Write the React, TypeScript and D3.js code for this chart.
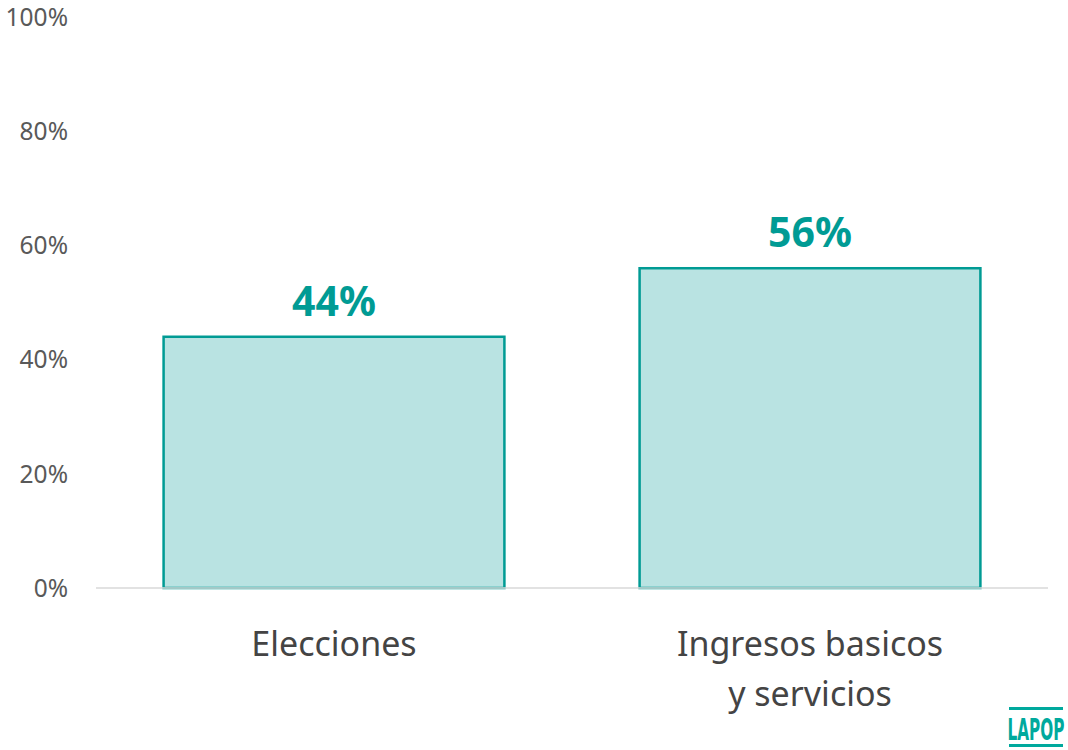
import React from 'react';
import * as d3 from 'd3';

// chart data
const categories: string[][] = [['Elecciones'], ['Ingresos basicos', 'y servicios']];
const values: number[] = [0.44, 0.56];
const yTicks: number[] = [0, 0.2, 0.4, 0.6, 0.8, 1];

const W = 1068;
const H = 750;
const margin = { top: 17, right: 20, bottom: 162, left: 96 };

const teal = '#009B94';
const fill = '#B9E3E2';
const font = '"Noto Sans", "Open Sans", sans-serif';

export default function App() {
  const x = d3
    .scaleBand<number>()
    .domain(d3.range(values.length))
    .range([margin.left, W - margin.right])
    .paddingInner(0.284)
    .paddingOuter(0.142);

  const y = d3
    .scaleLinear()
    .domain([0, 1])
    .range([H - margin.bottom, margin.top]);

  const fmt = d3.format('.0%');

  return (
    <svg
      width={W}
      height={H}
      style={{ position: 'absolute', left: 0, top: 0, background: '#fff' }}
      fontFamily={font}
    >
      {/* y tick labels */}
      {yTicks.map((t) => (
        <text
          key={t}
          x={68}
          y={y(t)}
          dy="0.36em"
          textAnchor="end"
          fontSize={24.5}
          fill="#595959"
        >
          {fmt(t)}
        </text>
      ))}

      {/* bars */}
      {values.map((v, i) => (
        <rect
          key={i}
          x={x(i)}
          y={y(v)}
          width={x.bandwidth()}
          height={y(0) - y(v)}
          fill={fill}
          stroke={teal}
          strokeWidth={2.5}
        />
      ))}

      {/* baseline */}
      <line
        x1={margin.left}
        x2={W - margin.right}
        y1={y(0)}
        y2={y(0)}
        stroke="#D9D9D9"
        strokeWidth={1.5}
      />

      {/* value labels */}
      {values.map((v, i) => (
        <text
          key={i}
          x={(x(i) ?? 0) + x.bandwidth() / 2}
          y={y(v) - 21}
          textAnchor="middle"
          fontSize={41}
          fontWeight="bold"
          fill={teal}
        >
          {fmt(v)}
        </text>
      ))}

      {/* category labels */}
      {categories.map((lines, i) => (
        <text
          key={i}
          x={(x(i) ?? 0) + x.bandwidth() / 2}
          y={656}
          textAnchor="middle"
          fontSize={34}
          fill="#444444"
        >
          {lines.map((l, j) => (
            <tspan key={j} x={(x(i) ?? 0) + x.bandwidth() / 2} dy={j === 0 ? 0 : 50}>
              {l}
            </tspan>
          ))}
        </text>
      ))}

      {/* LAPOP logo */}
      <g fill="#00A99D">
        <rect x={1009} y={707} width={54} height={3} />
        <text
          transform="translate(1036,740) scale(1,1.75)"
          textAnchor="middle"
          fontSize={17}
          fontWeight="bold"
          fontFamily='"DejaVu Sans Condensed", "Liberation Sans Narrow", sans-serif'
        >
          LAPOP
        </text>
        <rect x={1009} y={744} width={54} height={3} />
      </g>
    </svg>
  );
}
